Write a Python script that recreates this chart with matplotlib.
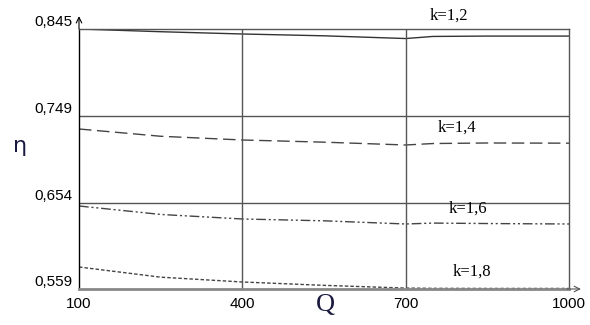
import matplotlib
matplotlib.use("Agg")
import matplotlib.pyplot as plt

Q = [100, 250, 400, 550, 700, 750, 850, 1000]
eta_12 = [0.845, 0.8420, 0.8395, 0.8375, 0.8345, 0.8368, 0.8372, 0.8372]
eta_14 = [0.735, 0.7270, 0.7229, 0.7205, 0.7174, 0.7190, 0.7196, 0.7194]
eta_16 = [0.6503, 0.6410, 0.6360, 0.6340, 0.6305, 0.6315, 0.6310, 0.6305]
eta_18 = [0.5832, 0.5720, 0.5667, 0.5630, 0.5600, 0.5597, 0.5596, 0.5596]

yticks = [0.559, 0.654, 0.749, 0.845]
ytick_labels = ["0,559", "0,654", "0,749", "0,845"]
xticks = [100, 400, 700, 1000]
k_labels = ["k=1,2", "k=1,4", "k=1,6", "k=1,8"]
k_label_pos = [(780, 0.860), (795, 0.736), (815, 0.647), (822, 0.578)]

fig = plt.figure(figsize=(5.9, 3.25), dpi=100)
ax = fig.add_axes([0.1339, 0.1108, 0.8305, 0.80])

line_col = "#444444"
grid_col = "#555555"

ax.plot(Q, eta_12, color="#333333", lw=1.0, ls="-")
ax.plot(Q, eta_14, color=line_col, lw=1.0, ls=(0, (9, 4)))
ax.plot(Q, eta_16, color=line_col, lw=1.0, ls=(0, (7, 2, 1.5, 2, 1.5, 2)))
ax.plot(Q, eta_18, color=line_col, lw=1.0, ls=(0, (2.5, 1.5)))

for y in yticks[1:-1]:
    ax.axhline(y, color=grid_col, lw=1.0)
for x in xticks[1:-1]:
    ax.axvline(x, color=grid_col, lw=1.0)

ax.set_xlim(100, 1000)
ax.set_ylim(0.559, 0.845)

for s in ["top", "right"]:
    ax.spines[s].set_color(grid_col)
    ax.spines[s].set_linewidth(1.0)
ax.spines["left"].set_color("black")
ax.spines["left"].set_linewidth(1.0)
ax.spines["bottom"].set_color("#888888")
ax.spines["bottom"].set_linewidth(2.0)

ax.set_yticks(yticks)
ax.set_yticklabels(ytick_labels, family="Liberation Sans", fontsize=11, va="bottom")
ax.set_xticks(xticks)
ax.set_xticklabels([str(x) for x in xticks], family="Liberation Sans", fontsize=11)
ax.tick_params(axis="both", length=0)
ax.tick_params(axis="y", pad=5)
ax.tick_params(axis="x", pad=6)

# axis arrows
ax.annotate("", xy=(0, 1.06), xytext=(0, 0.99), xycoords="axes fraction",
            arrowprops=dict(arrowstyle="->", color="black", lw=0.8), annotation_clip=False)
ax.annotate("", xy=(1.03, 0), xytext=(0.99, 0), xycoords="axes fraction",
            arrowprops=dict(arrowstyle="->", color="#555555", lw=0.8), annotation_clip=False)

for lab, (x, y) in zip(k_labels, k_label_pos):
    ax.text(x, y, lab, family="Liberation Serif", fontsize=12, ha="center", va="center",
            clip_on=False)

fig.text(20 / 590, 1 - 146 / 325, "η", family="DejaVu Sans", fontsize=16,
         color="#1a1a40", ha="center", va="center")
fig.text(325 / 590, 1 - 305 / 325, "Q", family="Liberation Serif", fontsize=19,
         color="#1a1a40", ha="center", va="center")

fig.savefig("out.png", dpi=100)
